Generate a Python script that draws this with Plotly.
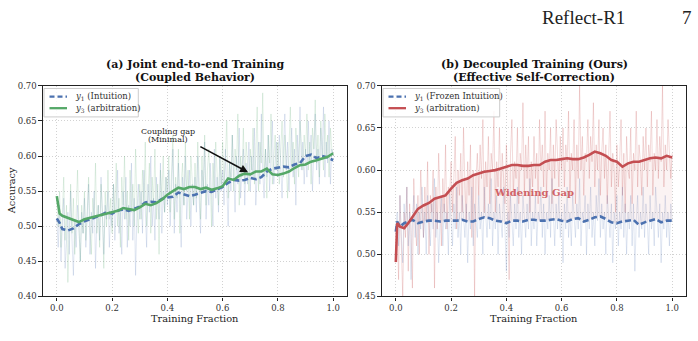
import plotly.graph_objects as go

# ---------------- data ----------------
RAW_X = [i / 200 for i in range(201)]

A_Y1_RAW = [
    0.51, 0.47, 0.53, 0.45, 0.50, 0.54, 0.44, 0.49, 0.52, 0.46, 0.55, 0.48, 0.43, 0.51, 0.47, 0.53, 0.50, 0.45, 0.52, 0.49,
    0.54, 0.47, 0.51, 0.56, 0.46, 0.52, 0.49, 0.55, 0.44, 0.51, 0.53, 0.48, 0.57, 0.50, 0.46, 0.53, 0.51, 0.55, 0.47, 0.52,
    0.50, 0.56, 0.48, 0.53, 0.58, 0.49, 0.52, 0.46, 0.55, 0.51, 0.57, 0.47, 0.53, 0.50, 0.59, 0.48, 0.54, 0.43, 0.52, 0.56,
    0.51, 0.55, 0.49, 0.58, 0.53, 0.47, 0.56, 0.52, 0.60, 0.50, 0.54, 0.48, 0.57, 0.53, 0.51, 0.59, 0.49, 0.55, 0.52, 0.57,
    0.53, 0.58, 0.50, 0.55, 0.61, 0.49, 0.56, 0.52, 0.59, 0.54, 0.47, 0.57, 0.53, 0.60, 0.51, 0.55, 0.58, 0.50, 0.56, 0.53,
    0.57, 0.52, 0.60, 0.54, 0.49, 0.58, 0.55, 0.62, 0.51, 0.56, 0.53, 0.59, 0.55, 0.50, 0.61, 0.54, 0.57, 0.52, 0.60, 0.55,
    0.58, 0.53, 0.61, 0.56, 0.50, 0.59, 0.55, 0.63, 0.57, 0.52, 0.60, 0.56, 0.64, 0.54, 0.58, 0.61, 0.53, 0.59, 0.56, 0.62,
    0.55, 0.60, 0.57, 0.64, 0.53, 0.59, 0.62, 0.56, 0.66, 0.58, 0.54, 0.61, 0.57, 0.63, 0.55, 0.60, 0.65, 0.56, 0.59, 0.62,
    0.57, 0.63, 0.59, 0.54, 0.61, 0.66, 0.58, 0.62, 0.55, 0.60, 0.64, 0.57, 0.61, 0.53, 0.63, 0.59, 0.67, 0.58, 0.62, 0.56,
    0.61, 0.57, 0.65, 0.59, 0.63, 0.55, 0.62, 0.66, 0.58, 0.61, 0.56, 0.64, 0.60, 0.67, 0.57, 0.62, 0.59, 0.65, 0.56, 0.61,
    0.60]
A_Y3_RAW = [
    0.54, 0.50, 0.55, 0.47, 0.52, 0.57, 0.48, 0.53, 0.42, 0.51, 0.56, 0.49, 0.54, 0.46, 0.52, 0.58, 0.50, 0.45, 0.53, 0.49,
    0.55, 0.48, 0.52, 0.57, 0.50, 0.46, 0.54, 0.51, 0.59, 0.49, 0.53, 0.47, 0.56, 0.52, 0.44, 0.55, 0.50, 0.58, 0.51, 0.54,
    0.49, 0.56, 0.52, 0.59, 0.50, 0.54, 0.47, 0.57, 0.53, 0.60, 0.51, 0.55, 0.48, 0.58, 0.52, 0.56, 0.50, 0.61, 0.53, 0.49,
    0.56, 0.51, 0.58, 0.53, 0.62, 0.50, 0.55, 0.59, 0.49, 0.57, 0.53, 0.61, 0.51, 0.56, 0.46, 0.58, 0.54, 0.60, 0.52, 0.57,
    0.55, 0.60, 0.52, 0.58, 0.63, 0.51, 0.57, 0.54, 0.61, 0.49, 0.56, 0.59, 0.53, 0.62, 0.55, 0.58, 0.51, 0.60, 0.56, 0.53,
    0.59, 0.54, 0.62, 0.57, 0.51, 0.60, 0.55, 0.63, 0.53, 0.58, 0.61, 0.56, 0.50, 0.59, 0.55, 0.62, 0.57, 0.53, 0.60, 0.56,
    0.62, 0.56, 0.60, 0.65, 0.54, 0.59, 0.57, 0.63, 0.55, 0.61, 0.58, 0.66, 0.53, 0.60, 0.57, 0.64, 0.56, 0.62, 0.59, 0.55,
    0.61, 0.58, 0.64, 0.56, 0.60, 0.67, 0.55, 0.62, 0.59, 0.69, 0.57, 0.61, 0.54, 0.63, 0.59, 0.66, 0.56, 0.60, 0.63, 0.58,
    0.62, 0.56, 0.60, 0.65, 0.57, 0.63, 0.59, 0.54, 0.61, 0.67, 0.58, 0.62, 0.56, 0.64, 0.60, 0.57, 0.65, 0.61, 0.58, 0.63,
    0.60, 0.66, 0.58, 0.62, 0.56, 0.64, 0.61, 0.68, 0.59, 0.63, 0.57, 0.65, 0.61, 0.58, 0.66, 0.60, 0.63, 0.57, 0.64, 0.61,
    0.60]
B_Y1_RAW = [
    0.53, 0.55, 0.51, 0.57, 0.52, 0.49, 0.56, 0.53, 0.58, 0.51, 0.55, 0.47, 0.54, 0.57, 0.52, 0.56, 0.50, 0.55, 0.53, 0.58,
    0.52, 0.55, 0.50, 0.57, 0.54, 0.51, 0.56, 0.53, 0.59, 0.52, 0.55, 0.49, 0.54, 0.57, 0.51, 0.56, 0.53, 0.55, 0.50, 0.57,
    0.54, 0.51, 0.56, 0.53, 0.58, 0.52, 0.55, 0.50, 0.57, 0.54, 0.52, 0.56, 0.49, 0.55, 0.53, 0.58, 0.51, 0.56, 0.54, 0.52,
    0.57, 0.53, 0.55, 0.50, 0.58, 0.54, 0.52, 0.56, 0.53, 0.59, 0.51, 0.55, 0.53, 0.57, 0.50, 0.56, 0.54, 0.52, 0.58, 0.53,
    0.48, 0.55, 0.52, 0.57, 0.54, 0.51, 0.56, 0.53, 0.58, 0.52, 0.55, 0.50, 0.57, 0.54, 0.52, 0.56, 0.53, 0.59, 0.51, 0.55,
    0.53, 0.57, 0.51, 0.55, 0.54, 0.58, 0.52, 0.56, 0.50, 0.55, 0.53, 0.57, 0.52, 0.59, 0.54, 0.51, 0.56, 0.53, 0.57, 0.52,
    0.55, 0.49, 0.56, 0.53, 0.58, 0.52, 0.55, 0.51, 0.57, 0.54, 0.52, 0.56, 0.53, 0.59, 0.51, 0.55, 0.54, 0.57, 0.50, 0.56,
    0.53, 0.58, 0.52, 0.55, 0.51, 0.57, 0.54, 0.59, 0.52, 0.56, 0.53, 0.55, 0.50, 0.57, 0.54, 0.52, 0.56, 0.49, 0.55, 0.53,
    0.57, 0.51, 0.55, 0.53, 0.58, 0.52, 0.56, 0.50, 0.55, 0.53, 0.57, 0.51, 0.56, 0.48, 0.54, 0.57, 0.52, 0.55, 0.53, 0.58,
    0.52, 0.56, 0.54, 0.50, 0.57, 0.53, 0.55, 0.51, 0.58, 0.54, 0.52, 0.56, 0.49, 0.55, 0.53, 0.57, 0.52, 0.55, 0.51, 0.56,
    0.54]
B_Y3_RAW = [
    0.49, 0.54, 0.47, 0.57, 0.51, 0.45, 0.55, 0.52, 0.58, 0.48, 0.56, 0.53, 0.46, 0.59, 0.54, 0.51, 0.57, 0.50, 0.60, 0.55,
    0.52, 0.58, 0.54, 0.61, 0.50, 0.57, 0.55, 0.60, 0.46, 0.58, 0.53, 0.62, 0.56, 0.51, 0.59, 0.55, 0.63, 0.53, 0.58, 0.57,
    0.61, 0.55, 0.59, 0.64, 0.53, 0.60, 0.57, 0.62, 0.55, 0.65, 0.58, 0.54, 0.61, 0.57, 0.63, 0.52, 0.60, 0.45, 0.59, 0.62,
    0.57, 0.63, 0.59, 0.66, 0.55, 0.61, 0.58, 0.64, 0.56, 0.62, 0.60, 0.67, 0.55, 0.61, 0.58, 0.65, 0.57, 0.62, 0.59, 0.56,
    0.63, 0.58, 0.47, 0.62, 0.66, 0.57, 0.61, 0.59, 0.65, 0.56, 0.62, 0.60, 0.68, 0.57, 0.63, 0.59, 0.64, 0.55, 0.61, 0.58,
    0.64, 0.59, 0.62, 0.56, 0.66, 0.60, 0.63, 0.58, 0.67, 0.57, 0.62, 0.60, 0.65, 0.56, 0.63, 0.59, 0.66, 0.61, 0.58, 0.64,
    0.60, 0.65, 0.58, 0.63, 0.61, 0.67, 0.57, 0.62, 0.60, 0.66, 0.56, 0.63, 0.59, 0.70, 0.60, 0.64, 0.57, 0.62, 0.61, 0.66,
    0.59, 0.64, 0.61, 0.68, 0.58, 0.63, 0.60, 0.66, 0.57, 0.62, 0.65, 0.59, 0.63, 0.56, 0.61, 0.67, 0.58, 0.62, 0.60, 0.55,
    0.63, 0.58, 0.61, 0.66, 0.57, 0.62, 0.55, 0.64, 0.60, 0.59, 0.65, 0.56, 0.62, 0.60, 0.67, 0.58, 0.63, 0.61, 0.57, 0.64,
    0.60, 0.65, 0.58, 0.63, 0.61, 0.67, 0.57, 0.62, 0.60, 0.66, 0.59, 0.64, 0.61, 0.70, 0.58, 0.63, 0.60, 0.66, 0.62, 0.59,
    0.62]

A_X = [0.00, 0.01, 0.02, 0.04, 0.06, 0.08, 0.10, 0.12, 0.14, 0.16, 0.18,
       0.20, 0.22, 0.24, 0.26, 0.28, 0.30, 0.32, 0.34, 0.36, 0.38, 0.40,
       0.42, 0.44, 0.46, 0.48, 0.50, 0.52, 0.54, 0.56, 0.58, 0.60, 0.62,
       0.64, 0.66, 0.68, 0.70, 0.72, 0.74, 0.76, 0.78, 0.80, 0.82, 0.84,
       0.86, 0.88, 0.90, 0.92, 0.94, 0.96, 0.98, 1.00]
A_Y3 = [0.543, 0.518, 0.515, 0.512, 0.508, 0.506, 0.510, 0.512, 0.515, 0.517,
        0.518, 0.520, 0.522, 0.526, 0.524, 0.523, 0.527, 0.532, 0.530, 0.533,
        0.538, 0.545, 0.550, 0.555, 0.553, 0.556, 0.556, 0.553, 0.555, 0.552,
        0.554, 0.557, 0.568, 0.566, 0.572, 0.575, 0.574, 0.578, 0.578, 0.582,
        0.574, 0.573, 0.575, 0.578, 0.583, 0.587, 0.588, 0.592, 0.594, 0.597,
        0.599, 0.604]
A_Y1 = [0.511, 0.505, 0.496, 0.494, 0.497, 0.503, 0.507, 0.510, 0.512, 0.516,
        0.520, 0.518, 0.522, 0.524, 0.522, 0.525, 0.528, 0.534, 0.535, 0.534,
        0.539, 0.541, 0.542, 0.548, 0.546, 0.543, 0.545, 0.548, 0.550, 0.549,
        0.552, 0.556, 0.562, 0.566, 0.565, 0.566, 0.569, 0.567, 0.570, 0.578,
        0.582, 0.583, 0.585, 0.584, 0.588, 0.590, 0.600, 0.602, 0.597, 0.600,
        0.598, 0.594]

B_X = [0.000, 0.005, 0.015, 0.030, 0.045, 0.060, 0.080, 0.100, 0.120, 0.140,
       0.160, 0.180, 0.200, 0.220, 0.240, 0.260, 0.280, 0.300, 0.320, 0.340,
       0.360, 0.380, 0.400, 0.420, 0.440, 0.460, 0.480, 0.500, 0.520, 0.540,
       0.560, 0.580, 0.600, 0.620, 0.640, 0.660, 0.680, 0.700, 0.720, 0.740,
       0.760, 0.780, 0.800, 0.820, 0.840, 0.860, 0.880, 0.900, 0.920, 0.940,
       0.960, 0.980, 1.000]
B_Y3 = [0.491, 0.537, 0.533, 0.531, 0.537, 0.544, 0.554, 0.558, 0.561, 0.566,
        0.568, 0.570, 0.578, 0.585, 0.588, 0.590, 0.594, 0.596, 0.598, 0.599,
        0.600, 0.602, 0.604, 0.606, 0.606, 0.605, 0.605, 0.606, 0.606, 0.610,
        0.612, 0.612, 0.613, 0.614, 0.613, 0.613, 0.615, 0.618, 0.622, 0.620,
        0.617, 0.612, 0.610, 0.604, 0.608, 0.610, 0.610, 0.612, 0.614, 0.615,
        0.614, 0.617, 0.615]
B_Y1 = [0.527, 0.539, 0.533, 0.537, 0.539, 0.541, 0.537, 0.539, 0.540, 0.540,
        0.539, 0.540, 0.540, 0.540, 0.541, 0.539, 0.539, 0.542, 0.544, 0.543,
        0.540, 0.539, 0.537, 0.540, 0.540, 0.539, 0.541, 0.541, 0.540, 0.540,
        0.541, 0.542, 0.540, 0.539, 0.542, 0.543, 0.539, 0.541, 0.544, 0.545,
        0.542, 0.538, 0.537, 0.539, 0.540, 0.541, 0.535, 0.538, 0.540, 0.542,
        0.538, 0.540, 0.540]

X_TICKS = [0.0, 0.2, 0.4, 0.6, 0.8, 1.0]
A_YTICKS = [0.40, 0.45, 0.50, 0.55, 0.60, 0.65, 0.70]
B_YTICKS = [0.45, 0.50, 0.55, 0.60, 0.65, 0.70]

A_LEGEND = ["<i>y</i><sub>1</sub> (Intuition)", "<i>y</i><sub>3</sub> (arbitration)"]
B_LEGEND = ["<i>y</i><sub>1</sub> (Frozen Intuition)", "<i>y</i><sub>3</sub> (arbitration)"]

# ---------------- style ----------------
BLUE = "#4c72b0"
GREEN = "#55a868"
RED = "#c44e52"
SERIF = "DejaVu Serif"
W, H = 698, 341
DASH = "6px,3px"

fig = go.Figure()

def raw(x, y, color, xa, ya):
    fig.add_trace(go.Scatter(x=x, y=y, mode="lines", line=dict(color=color, width=1),
                             showlegend=False, hoverinfo="skip", xaxis=xa, yaxis=ya))

# left panel
raw(RAW_X, A_Y1_RAW, "rgba(76,114,176,0.17)", "x", "y")
raw(RAW_X, A_Y3_RAW, "rgba(85,168,104,0.17)", "x", "y")
fig.add_trace(go.Scatter(x=A_X, y=A_Y1, mode="lines", name=A_LEGEND[0],
                         line=dict(color=BLUE, width=2.6, dash=DASH), xaxis="x", yaxis="y"))
fig.add_trace(go.Scatter(x=A_X, y=A_Y3, mode="lines", name=A_LEGEND[1],
                         line=dict(color=GREEN, width=2.6), xaxis="x", yaxis="y"))

# right panel
raw(RAW_X, B_Y3_RAW, "rgba(196,78,82,0.21)", "x2", "y2")
raw(RAW_X, B_Y1_RAW, "rgba(76,114,176,0.17)", "x2", "y2")
fig.add_trace(go.Scatter(x=B_X, y=B_Y1, mode="lines", line=dict(width=0), showlegend=False,
                         hoverinfo="skip", xaxis="x2", yaxis="y2"))
fig.add_trace(go.Scatter(x=B_X, y=B_Y3, mode="lines", line=dict(width=0), fill="tonexty",
                         fillcolor="rgba(196,78,82,0.07)", showlegend=False,
                         hoverinfo="skip", xaxis="x2", yaxis="y2"))
fig.add_trace(go.Scatter(x=B_X, y=B_Y1, mode="lines", name=B_LEGEND[0],
                         line=dict(color=BLUE, width=2.6, dash=DASH), xaxis="x2", yaxis="y2"))
fig.add_trace(go.Scatter(x=B_X, y=B_Y3, mode="lines", name=B_LEGEND[1],
                         line=dict(color=RED, width=2.6), xaxis="x2", yaxis="y2"))

YDOM = [1 - 300.3 / H, 1 - 83.3 / H]
axis_common = dict(showline=True, mirror=True, linecolor="#222", linewidth=1.2,
                   ticks="outside", ticklen=3.5, tickcolor="#222", tickwidth=1,
                   showgrid=True, gridcolor="#d2d2d2", griddash="1px,2px", gridwidth=1,
                   zeroline=False, tickfont=dict(family=SERIF, size=8.5, color="#333"))

fig.update_layout(
    width=W, height=H, margin=dict(l=0, r=0, t=0, b=0),
    paper_bgcolor="white", plot_bgcolor="white", showlegend=False,
    xaxis=dict(domain=[43 / W, 347 / W], range=[-0.05, 1.05], tickvals=X_TICKS,
               ticktext=[f"{v:.1f}" for v in X_TICKS], anchor="y", **axis_common),
    yaxis=dict(domain=YDOM, range=[0.40, 0.70], tickvals=A_YTICKS,
               ticktext=[f"{v:.2f}" for v in A_YTICKS], anchor="x", **axis_common),
    xaxis2=dict(domain=[382 / W, 686 / W], range=[-0.05, 1.05], tickvals=X_TICKS,
                ticktext=[f"{v:.1f}" for v in X_TICKS], anchor="y2", **axis_common),
    yaxis2=dict(domain=YDOM, range=[0.45, 0.70], tickvals=B_YTICKS,
                ticktext=[f"{v:.2f}" for v in B_YTICKS], anchor="x2", **axis_common),
)

def ptxt(text, px, py, size, bold=False, color="#111", family=SERIF, angle=0, xanchor="center"):
    t = f"<b>{text}</b>" if bold else text
    fig.add_annotation(text=t, x=px / W, y=1 - py / H, xref="paper", yref="paper",
                       showarrow=False, xanchor=xanchor, yanchor="middle", textangle=angle,
                       font=dict(family=family, size=size, color=color))

def pline(x0, y0, x1, y1, color, width, dash="solid"):
    fig.add_shape(type="line", xref="paper", yref="paper",
                  x0=x0 / W, x1=x1 / W, y0=1 - y0 / H, y1=1 - y1 / H,
                  line=dict(color=color, width=width, dash=dash))

def legend_box(left, right, labels, colors, dashes):
    fig.add_shape(type="rect", xref="paper", yref="paper",
                  x0=left / W, x1=right / W, y0=1 - 115.3 / H, y1=1 - 86 / H,
                  line=dict(color="#cccccc", width=1), fillcolor="rgba(255,255,255,0.85)")
    for (ly, lab, col, dsh) in zip([94.3, 106.3], labels, colors, dashes):
        pline(left + 5.5, ly, left + 23, ly, col, 2.3, dsh)
        ptxt(lab, left + 28.5, ly, 8.5, color="#333", xanchor="left")

legend_box(44, 138.3, A_LEGEND, [BLUE, GREEN], ["5px,3px", "solid"])
legend_box(383, 499.7, B_LEGEND, [BLUE, RED], ["5px,3px", "solid"])

# page header
ptxt("Reflect-R1", 583, 13, 19, family="Liberation Serif", color="#222")
ptxt("7", 687, 13, 19, family="Liberation Serif", color="#222")

# titles
ptxt("(a) Joint end-to-end Training", 195, 61, 11, bold=True)
ptxt("(Coupled Behavior)", 195, 75, 11, bold=True)
ptxt("(b) Decoupled Training (Ours)", 534, 61, 11, bold=True)
ptxt("(Effective Self-Correction)", 534, 75, 11, bold=True)

# axis labels
ptxt("Training Fraction", 195, 323, 9.8, color="#222")
ptxt("Training Fraction", 534, 323, 9.8, color="#222")
ptxt("Accuracy", 11, 192, 9.8, color="#222", angle=-90)

# coupling gap annotation
ptxt("Coupling gap", 167.5, 130, 8, color="#222")
ptxt("(Minimal)", 167.5, 138.5, 8, color="#222")
fig.add_annotation(x=0.692, y=0.577, ax=0.514, ay=0.6146, xref="x", yref="y",
                   axref="x", ayref="y", text="", showarrow=True, arrowhead=2,
                   arrowsize=1, arrowwidth=1.6, arrowcolor="#111")

# widening gap
fig.add_annotation(text="<b>Widening Gap</b>", x=0.50, y=0.573, xref="x2", yref="y2",
                   showarrow=False, font=dict(family=SERIF, size=10, color="#d06367"))

fig.write_html("out.html")
